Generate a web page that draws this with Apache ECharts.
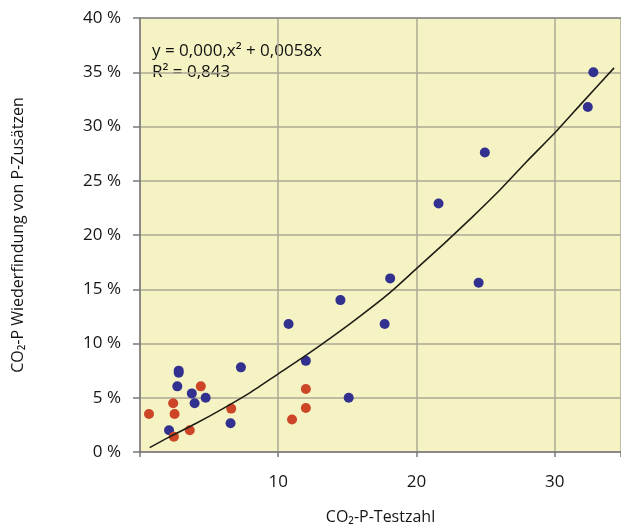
<!DOCTYPE html>
<html>
<head>
<meta charset="utf-8">
<script src="https://cdn.jsdelivr.net/npm/echarts@6/dist/echarts.min.js"></script>
<style>
  html, body { margin: 0; padding: 0; background: #fff; }
  #chart { width: 621px; height: 527px; }
</style>
</head>
<body>
<div id="chart"></div>
<script>
// Messpunkte (blau)
const blueX = [2.1, 2.8, 2.8, 2.7, 3.75, 3.95, 4.75, 6.55, 7.3, 10.75, 12.0, 14.5, 15.1, 17.7, 18.1, 21.6, 24.5, 24.95, 32.4, 32.8];
const blueY = [2.0, 7.5, 7.3, 6.05, 5.4, 4.5, 5.0, 2.65, 7.8, 11.8, 8.4, 14.0, 5.0, 11.8, 16.0, 22.9, 15.6, 27.6, 31.8, 35.0];

// Messpunkte (rot)
const redX = [0.65, 2.4, 2.5, 2.45, 3.6, 4.4, 6.6, 11.0, 12.0, 12.0];
const redY = [3.5, 4.5, 3.5, 1.4, 2.0, 6.05, 4.0, 3.0, 4.05, 5.8];

// Trendlinie
const curveX = [0.7, 2, 4, 6, 8, 10, 12, 14, 16, 18, 20, 22, 24, 26, 28, 30, 32, 34.3];
const curveY = [0.4, 1.3, 2.6, 4.0, 5.5, 7.2, 8.9, 10.7, 12.6, 14.6, 16.9, 19.2, 21.6, 24.1, 26.8, 29.4, 32.2, 35.4];

const xTicks = [10, 20, 30];
const eqText = 'y = 0,000,x² + 0,0058x\nR² = 0,843';

const FONT = "'Open Sans', sans-serif";
const pairs = (xs, ys) => xs.map((x, i) => [x, ys[i]]);

const chart = echarts.init(document.getElementById('chart'), null, { renderer: 'canvas' });

const option = {
  animation: false,
  textStyle: { fontFamily: FONT },
  grid: {
    left: 140, right: 0, top: 18, bottom: 75,
    outerBoundsMode: 'none',
    show: true, backgroundColor: '#f5f3c3', borderWidth: 0
  },
  xAxis: [{
    type: 'value',
    min: 0, max: 34.8, interval: 10,
    name: 'CO₂-P-Testzahl',
    nameLocation: 'middle',
    nameGap: 57,
    nameTextStyle: { fontSize: 16, color: '#151515', fontFamily: FONT },
    axisLine: { show: true, lineStyle: { color: '#7a7a7a', width: 1.5 } },
    axisTick: { show: true, length: 5, lineStyle: { color: '#7a7a7a', width: 1.5 } },
    axisLabel: {
      fontSize: 17, color: '#151515', margin: 22, fontFamily: FONT,
      formatter: v => (xTicks.indexOf(v) >= 0 ? String(v) : '')
    },
    splitLine: { show: true, lineStyle: { color: '#aba996', width: 1.5 } }
  }, {
    // obere Rahmenlinie
    type: 'value', position: 'top',
    min: 0, max: 34.8,
    axisLine: { show: true, lineStyle: { color: '#8a8a8a', width: 1.5 } },
    axisTick: { show: false }, axisLabel: { show: false }, splitLine: { show: false }
  }],
  yAxis: {
    type: 'value',
    min: 0, max: 40, interval: 5,
    name: 'CO₂-P Wiederfindung von P-Zusätzen',
    nameLocation: 'middle',
    nameGap: 114,
    nameTextStyle: { fontSize: 16, color: '#151515', fontFamily: FONT },
    axisLine: { show: true, lineStyle: { color: '#7a7a7a', width: 1.5 } },
    axisTick: { show: true, length: 7, lineStyle: { color: '#7a7a7a', width: 1.5 } },
    axisLabel: { fontSize: 17, color: '#151515', margin: 19, fontFamily: FONT, formatter: '{value} %' },
    splitLine: { show: true, lineStyle: { color: '#aba996', width: 1.5 } }
  },
  graphic: [{
    type: 'text',
    left: 152, top: 41,
    style: { text: eqText, font: '17px ' + FONT, fill: '#111', lineHeight: 21 }
  }],
  series: [{
    name: 'blau',
    type: 'scatter',
    symbol: 'circle', symbolSize: 10,
    itemStyle: { color: '#33318f', opacity: 1 },
    data: pairs(blueX, blueY)
  }, {
    name: 'rot',
    type: 'scatter',
    symbol: 'circle', symbolSize: 10,
    itemStyle: { color: '#cc4526', opacity: 1 },
    data: pairs(redX, redY)
  }, {
    name: 'Trend',
    type: 'line',
    smooth: 0.2,
    showSymbol: false,
    z: 5,
    lineStyle: { color: '#1e1e16', width: 1.6 },
    data: pairs(curveX, curveY)
  }]
};

chart.setOption(option);
</script>
</body>
</html>
